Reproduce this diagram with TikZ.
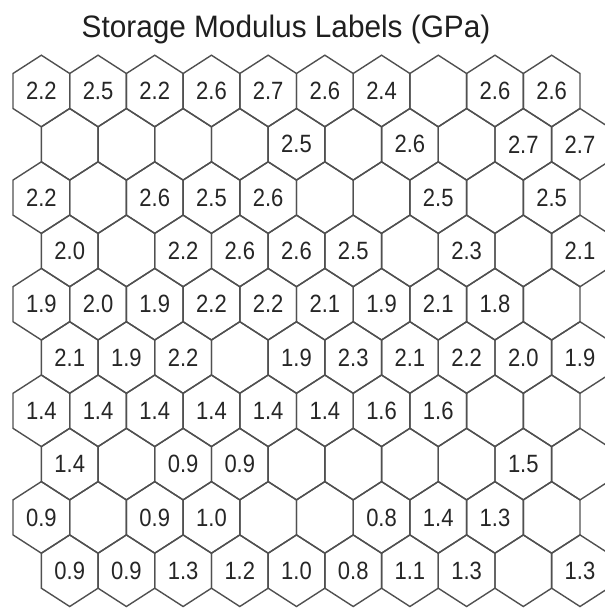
\documentclass[tikz,border=0pt]{standalone}
\usepackage{fontspec}
\setmainfont{Liberation Sans}
\newfontfamily\hexfont[FakeStretch=0.88]{Liberation Sans}
\newfontfamily\titlefont[FakeStretch=0.96]{Liberation Sans}
\definecolor{hexgray}{HTML}{505050}
\definecolor{txtgray}{HTML}{262626}
\newcommand\hexlab[3]{%
  \pgfmathsetmacro\hx{41.35+56.7*#2+28.35*mod(#1,2)}%
  \pgfmathsetmacro\hy{91+53.3*#1}%
  \node[lab] (h#1-#2) at (\hx,\hy) {#3};}
\begin{document}
\begin{tikzpicture}[x=1pt,y=-1pt,
  hexline/.style={draw=hexgray,line width=1.4pt,line join=miter},
  lab/.style={inner sep=0pt,text=txtgray,font=\hexfont\fontsize{25}{25}\selectfont},
  titlestyle/.style={inner sep=0pt,anchor=base,text=black!88,font=\titlefont\fontsize{31}{32}\selectfont}]
\useasboundingbox (0,0) rectangle (605,611);
\fill[white] (0,0) rectangle (605,611);
\begin{scope}
\clip (0,0) rectangle (605,611);
\foreach \r in {0,...,9}{
  \foreach \k in {0,...,9}{
    \pgfmathsetmacro\cx{41.35+56.7*\k+28.35*mod(\r,2)}
    \pgfmathsetmacro\cy{91+53.3*\r}
    \draw[hexline] (\cx,\cy-35.8) -- ++(28.35,18.3) -- ++(0,35) -- ++(-28.35,18.3)
      -- ++(-28.35,-18.3) -- ++(0,-35) -- cycle;
  }
}
\end{scope}
\node[titlestyle] (title) at (286,37) {Storage Modulus Labels (GPa)};
% row 0
\hexlab{0}{0}{2.2}\hexlab{0}{1}{2.5}\hexlab{0}{2}{2.2}\hexlab{0}{3}{2.6}\hexlab{0}{4}{2.7}
\hexlab{0}{5}{2.6}\hexlab{0}{6}{2.4}\hexlab{0}{8}{2.6}\hexlab{0}{9}{2.6}
% row 1
\hexlab{1}{4}{2.5}\hexlab{1}{6}{2.6}\hexlab{1}{8}{2.7}\hexlab{1}{9}{2.7}
% row 2
\hexlab{2}{0}{2.2}\hexlab{2}{2}{2.6}\hexlab{2}{3}{2.5}\hexlab{2}{4}{2.6}\hexlab{2}{7}{2.5}\hexlab{2}{9}{2.5}
% row 3
\hexlab{3}{0}{2.0}\hexlab{3}{2}{2.2}\hexlab{3}{3}{2.6}\hexlab{3}{4}{2.6}\hexlab{3}{5}{2.5}
\hexlab{3}{7}{2.3}\hexlab{3}{9}{2.1}
% row 4
\hexlab{4}{0}{1.9}\hexlab{4}{1}{2.0}\hexlab{4}{2}{1.9}\hexlab{4}{3}{2.2}\hexlab{4}{4}{2.2}
\hexlab{4}{5}{2.1}\hexlab{4}{6}{1.9}\hexlab{4}{7}{2.1}\hexlab{4}{8}{1.8}
% row 5
\hexlab{5}{0}{2.1}\hexlab{5}{1}{1.9}\hexlab{5}{2}{2.2}\hexlab{5}{4}{1.9}\hexlab{5}{5}{2.3}
\hexlab{5}{6}{2.1}\hexlab{5}{7}{2.2}\hexlab{5}{8}{2.0}\hexlab{5}{9}{1.9}
% row 6
\hexlab{6}{0}{1.4}\hexlab{6}{1}{1.4}\hexlab{6}{2}{1.4}\hexlab{6}{3}{1.4}\hexlab{6}{4}{1.4}
\hexlab{6}{5}{1.4}\hexlab{6}{6}{1.6}\hexlab{6}{7}{1.6}
% row 7
\hexlab{7}{0}{1.4}\hexlab{7}{2}{0.9}\hexlab{7}{3}{0.9}\hexlab{7}{8}{1.5}
% row 8
\hexlab{8}{0}{0.9}\hexlab{8}{2}{0.9}\hexlab{8}{3}{1.0}\hexlab{8}{6}{0.8}\hexlab{8}{7}{1.4}\hexlab{8}{8}{1.3}
% row 9
\hexlab{9}{0}{0.9}\hexlab{9}{1}{0.9}\hexlab{9}{2}{1.3}\hexlab{9}{3}{1.2}\hexlab{9}{4}{1.0}
\hexlab{9}{5}{0.8}\hexlab{9}{6}{1.1}\hexlab{9}{7}{1.3}\hexlab{9}{9}{1.3}
\end{tikzpicture}
\end{document}
